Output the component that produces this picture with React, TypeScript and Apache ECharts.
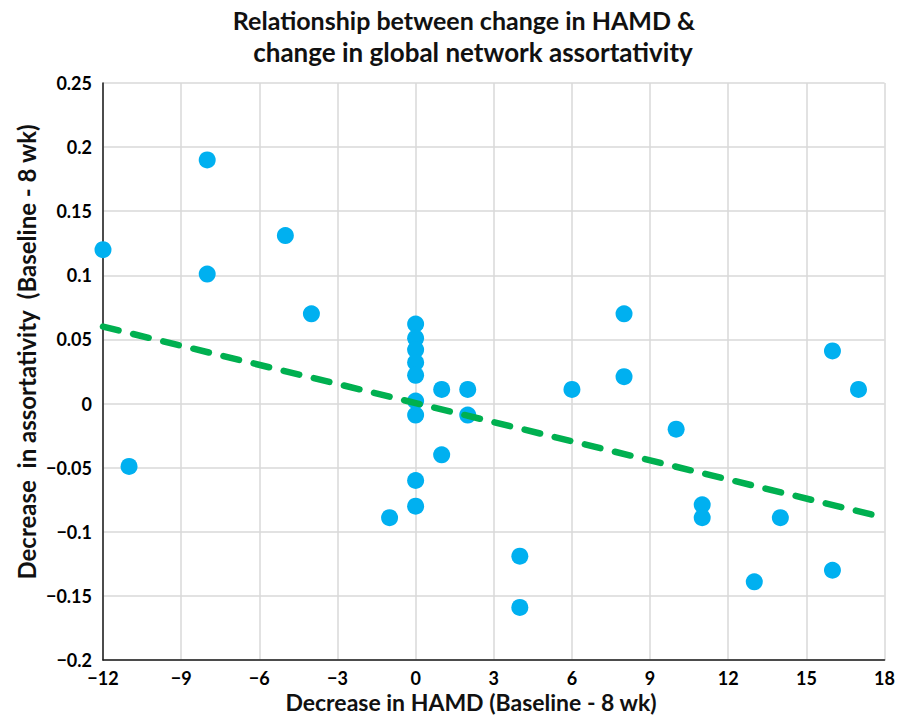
import React, { useEffect, useRef } from "react";
import * as echarts from "echarts";

const hamdDecrease = [
  -12, -11, -8, -8, -5, -4, -1,
  0, 0, 0, 0, 0, 0, 0, 0, 0,
  1, 1, 2, 2, 4, 4, 6, 8, 8, 10, 11, 11, 13, 14, 16, 16, 17,
];
const assortDecrease = [
  0.12, -0.049, 0.19, 0.101, 0.131, 0.07, -0.089,
  0.062, 0.051, 0.042, 0.032, 0.022, 0.002, -0.009, -0.06, -0.08,
  0.011, -0.04, 0.011, -0.009, -0.119, -0.159, 0.011, 0.07, 0.021, -0.02, -0.079, -0.089, -0.139, -0.089, 0.041, -0.13, 0.011,
];
const trendX = [-12, 18];
const trendY = [0.06, -0.089];

const titleLines = [
  "Relationship between change in HAMD &",
  "change in global network assortativity",
];
const xAxisTitle = "Decrease in HAMD (Baseline - 8 wk)";
const yAxisTitle = "Decrease  in assortativity  (Baseline - 8 wk)";

const FONT = "Lato, 'Open Sans', sans-serif";

const fmt = (v: number) => {
  const r = Math.round(v * 1000) / 1000;
  const s = String(Math.abs(r));
  return "{t|" + (r < 0 ? "\u2212" + s : s) + "}";
};

const tickRich = {
  t: {
    color: "#000",
    fontFamily: FONT,
    fontWeight: "bold",
    fontSize: 18,
    lineHeight: 20,
  },
};

export default function App() {
  const ref = useRef<HTMLDivElement>(null);
  useEffect(() => {
    document.body.style.margin = "0";
    if (!ref.current) return;
    const chart = echarts.init(ref.current, undefined, { renderer: "svg" });
    const points = hamdDecrease.map((x, i) => [x, assortDecrease[i]]);
    const trend = trendX.map((x, i) => [x, trendY[i]]);
    chart.setOption({
      animation: false,
      backgroundColor: "#ffffff",
      textStyle: { fontFamily: FONT },
      grid: { left: 103, right: 13, top: 83, bottom: 57 },
      xAxis: {
        type: "value",
        min: -12,
        max: 18,
        interval: 3,
        axisLine: { show: true, onZero: false, lineStyle: { color: "#1a1a1a", width: 1.5 } },
        axisTick: { show: false },
        splitLine: { show: true, lineStyle: { color: "#d9d9d9", width: 1.5 } },
        axisLabel: {
          show: true,
          color: "#000",
          fontFamily: FONT,
          fontWeight: "bold",
          fontSize: 18,
          margin: 8,
          formatter: fmt,
          rich: tickRich,
        },
      },
      yAxis: {
        type: "value",
        min: -0.2,
        max: 0.25,
        interval: 0.05,
        axisLine: { show: true, onZero: false, lineStyle: { color: "#1a1a1a", width: 1.5 } },
        axisTick: { show: false },
        splitLine: { show: true, lineStyle: { color: "#d9d9d9", width: 1.5 } },
        axisLabel: {
          show: true,
          color: "#000",
          fontFamily: FONT,
          fontWeight: "bold",
          fontSize: 18,
          margin: 11,
          formatter: fmt,
          rich: tickRich,
        },
      },
      series: [
        {
          type: "scatter",
          data: points,
          symbol: "circle",
          symbolSize: 17,
          itemStyle: { color: "#00B0F0", opacity: 1 },
          z: 2,
        },
        {
          type: "line",
          data: trend,
          symbol: "none",
          lineStyle: { color: "#00B050", width: 6.5, type: [16, 15], cap: "round" },
          z: 3,
        },
      ],
      graphic: [
        {
          type: "text",
          x: 464,
          y: 20,
          style: {
            text: titleLines[0],
            fill: "#111",
            font: `bold 25px ${FONT}`,
            align: "center",
            verticalAlign: "middle",
          },
        },
        {
          type: "text",
          x: 473,
          y: 52,
          style: {
            text: titleLines[1],
            fill: "#111",
            font: `bold 26px ${FONT}`,
            align: "center",
            verticalAlign: "middle",
          },
        },
        {
          type: "text",
          x: 471,
          y: 702,
          style: {
            text: xAxisTitle,
            fill: "#111",
            font: `bold 23px ${FONT}`,
            align: "center",
            verticalAlign: "middle",
          },
        },
        {
          type: "text",
          x: 26,
          y: 352,
          rotation: Math.PI / 2,
          style: {
            text: yAxisTitle,
            fill: "#111",
            font: `bold 24px ${FONT}`,
            align: "center",
            verticalAlign: "middle",
          },
        },
      ],
    });
    return () => chart.dispose();
  }, []);
  return <div ref={ref} style={{ width: 898, height: 717 }} />;
}
